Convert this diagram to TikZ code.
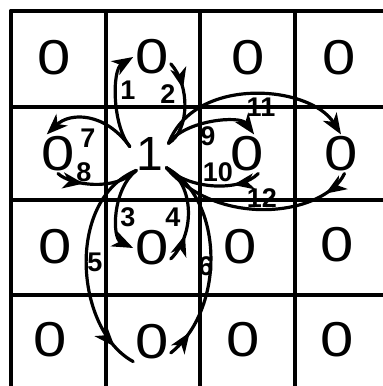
\documentclass[tikz,border=0pt]{standalone}
\usepackage{fontspec}
\setmainfont{Liberation Sans}
\usetikzlibrary{arrows.meta,calc,decorations.markings}

\newcommand{\cellzero}{\scalebox{1.22}[1]{0}}

\begin{document}
\begin{tikzpicture}[x=1pt, y=-1pt, line cap=round,
    tipat/.style={postaction={decorate}, decoration={markings, mark=at position #1 with {\arrow{Stealth[length=21pt,width=16pt,inset=6pt]}}}}]
  \tikzstyle{grid} = [draw, line width=4pt]
  \tikzstyle{zero} = [inner sep=2pt, font=\fontsize{49}{49}\selectfont]
  \tikzstyle{centre} = [circle, minimum size=34pt, inner sep=0pt, font=\fontsize{48}{48}\selectfont]
  \tikzstyle{tag} = [inner sep=0pt, font=\fontsize{27}{27}\selectfont\bfseries]
  \tikzstyle{arrow} = [draw, -{Stealth[length=21pt,width=16pt,inset=6pt]}, line width=3.2pt]
  \tikzstyle{back} = [draw, line width=3.2pt, tipat=28pt]

  \useasboundingbox (0,0) rectangle (383,386);

  % grid
  \draw[grid] (11,11) -- (383,11);
  \draw[grid] (11,107) -- (383,107);
  \draw[grid] (11,200) -- (383,200);
  \draw[grid] (11,295) -- (383,295);
  \draw[grid] (11,11) -- (11,386);
  \draw[grid] (106,11) -- (106,386);
  \draw[grid] (200,11) -- (200,386);
  \draw[grid] (295,11) -- (295,386);

  % cells
  \node[zero] (z11) at (54,58) {\cellzero};
  \node[zero] (z12) at (152,57) {\cellzero};
  \node[zero] (z13) at (248,58) {\cellzero};
  \node[zero] (z14) at (339,58) {\cellzero};
  \node[zero] (z21) at (58,154) {\cellzero};
  \node[centre] (one) at (150,154) {1};
  \node[zero] (z23) at (247,154) {\cellzero};
  \node[zero] (z24) at (341,154) {\cellzero};
  \node[zero] (z31) at (55,247) {\cellzero};
  \node[zero] (z32) at (152,248) {\cellzero};
  \node[zero] (z33) at (240,247) {\cellzero};
  \node[zero] (z34) at (337,245) {\cellzero};
  \node[zero] (z41) at (50,340) {\cellzero};
  \node[zero] (z42) at (152,342) {\cellzero};
  \node[zero] (z43) at (243,340) {\cellzero};
  \node[zero] (z44) at (337,340) {\cellzero};

  % paths
  \path[arrow] (one.160) .. controls (112,125) and (112,70) .. (z12.west);
  \path[back] (z12.-20) .. controls (190,85) and (190,130) .. (one.30);
  \path[arrow] (one.230) .. controls (112,190) and (112,238) .. (z32.west);
  \path[back] (z32.-30) .. controls (195,235) and (195,185) .. (one.-40);
  \path[draw, line width=3.2pt, tipat=-24pt] (one.230) .. controls (65,200) and (75,330) .. (z42.south west);
  \path[back] (z42.-30) .. controls (225,310) and (225,200) .. (one.-40);
  \path[arrow] (one.160) .. controls (105,112) and (70,112) .. (z21.120);
  \path[back] (z21.south) .. controls (70,185) and (115,192) .. (one.230);
  \path[arrow] (one.30) .. controls (185,120) and (240,115) .. (z23.70);
  \path[back] (z23.-60) .. controls (240,192) and (190,190) .. (one.-40);
  \path[arrow] (one.30) .. controls (195,75) and (310,85) .. (z24.north);
  \path[back] (z24.-80) .. controls (325,215) and (220,230) .. (one.-40);

  % path numbers
  \node[tag] (n1) at (128,90) {1};
  \node[tag] (n2) at (168,94) {2};
  \node[tag] (n3) at (128,217) {3};
  \node[tag] (n4) at (173,217) {4};
  \node[tag] (n5) at (95,262) {5};
  \node[tag] (n6) at (206,266) {6};
  \node[tag] (n7) at (88,138) {7};
  \node[tag] (n8) at (84,172) {8};
  \node[tag] (n9) at (208,136) {9};
  \node[tag] (n10) at (218,172) {10};
  \node[tag] (n11) at (261,107) {11};
  \node[tag] (n12) at (262,198) {12};
\end{tikzpicture}
\end{document}
